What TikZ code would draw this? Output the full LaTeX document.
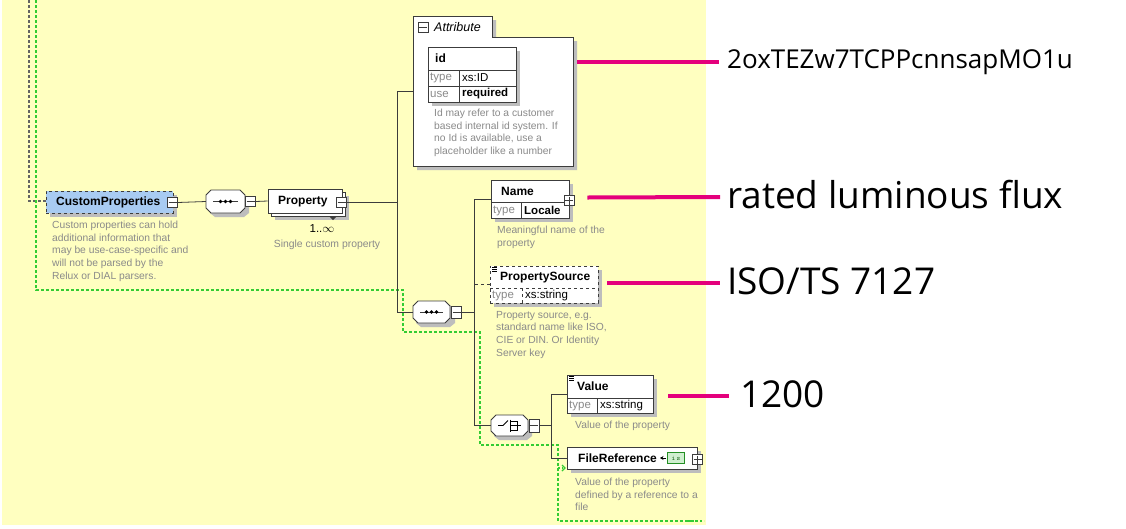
\documentclass[tikz,border=0pt]{standalone}
\usepackage{fontspec}
\setmainfont{Liberation Sans}
\newfontfamily\bigfont{Open Sans}
\usetikzlibrary{shadows,arrows.meta,calc}
\definecolor{bgyellow}{HTML}{FFFFC0}
\definecolor{boxline}{HTML}{3C3C3C}
\definecolor{descgray}{HTML}{8A8A8A}
\definecolor{greendot}{HTML}{33CC33}
\definecolor{pinkline}{HTML}{E4007C}
\definecolor{cpblue}{HTML}{A8CBF2}
\definecolor{shadowgray}{HTML}{BDBDBD}
\definecolor{isgreen}{HTML}{CFEFCF}
\begin{document}
\begin{tikzpicture}[x=1pt,y=-1pt,
  conn/.style={draw=boxline,line width=0.8pt},
  elbox/.style={draw=boxline,fill=white,line width=0.9pt,inner sep=0,rectangle,
     drop shadow={shadow xshift=4pt,shadow yshift=-4pt,fill=shadowgray,opacity=1}},
  smallbox/.style={draw=boxline,fill=white,line width=0.7pt,inner sep=0,minimum width=10,minimum height=10},
  title/.style={font=\fontsize{12}{14}\selectfont\bfseries,text=black,anchor=west,inner sep=0},
  lbl/.style={font=\fontsize{11.5}{13}\selectfont,text=descgray,anchor=west,inner sep=0},
  val/.style={font=\fontsize{11.5}{13}\selectfont,text=black,anchor=west,inner sep=0},
  desc/.style={font=\fontsize{10.3}{12.6}\selectfont,text=descgray,anchor=north west,align=left,inner sep=0},
  bigtxt/.style={font=\bigfont\fontsize{37}{42}\selectfont,text=black,anchor=west,inner sep=0},
  pink/.style={draw=pinkline,line width=4pt},
  gdot/.style={draw=greendot,line width=1.2pt,dash pattern=on 2.5pt off 2.5pt},
  ddot/.style={draw=boxline!80,line width=1.2pt,dash pattern=on 2.5pt off 2.5pt},
]
\useasboundingbox (0,0) rectangle (1126,528);
\fill[bgyellow] (2,0) rectangle (706,525);

% guide lines from top
\coordinate (dtop) at (29,0);
\coordinate (gtop) at (36,0);
\draw[ddot] (dtop) -- (29,201) -- (46,201);
\draw[gdot] (gtop) -- (36,290) -- (403,290) -- (403,332) -- (480,332) -- (480,445) -- (558,445) -- (558,521) -- (700,521);
\draw[draw=greendot,line width=2pt,dash pattern=on 2pt off 2pt] (688,521) -- (704,521);
\coordinate (gbr) at (558,468);

% ---------- CustomProperties
\node[elbox,fill=cpblue,dashed,minimum width=127,minimum height=22] (cp) at (109.5,202) {};
\node[title] at (56,202.5) {CustomProperties};
\node[smallbox] (cpminus) at (172.5,202.5) {};
\draw[boxline,line width=0.7pt] (168.5,202.5) -- (176.5,202.5);
\node[desc] at (52,221) {Custom properties can hold\\additional information that\\may be use-case-specific and\\will not be parsed by the\\Relux or DIAL parsers.};

% ---------- sequence 1
\coordinate (s1c) at (225.5,201.5);
\fill[shadowgray] (215,194) -- (244,194) -- (249,199) -- (249,213) -- (244,217) -- (215,217) -- (210,213) -- (210,199) -- cycle;
\draw[boxline,fill=white,line width=0.9pt] (211,190) -- (240,190) -- (245,195) -- (245,208) -- (240,213) -- (211,213) -- (206,208) -- (206,195) -- cycle;
\node[inner sep=0,minimum width=39,minimum height=23] (seq1) at (s1c) {};
\draw[boxline,line width=0.8pt] (213,201.5) -- (238,201.5);
\foreach \dx in {-5,0,5} \fill[black] ($(s1c)+(\dx,0)$) circle (1.9);
\node[smallbox] (s1minus) at (250.5,201.5) {};
\draw[boxline,line width=0.7pt] (246.5,201.5) -- (254.5,201.5);
\draw[conn] (cpminus.east) -- (seq1.west);

% ---------- Property
\fill[shadowgray] (275,196) rectangle (349,220);
\draw[boxline,fill=white,line width=0.9pt] (271,192) rectangle (345,216);
\node[draw=boxline,fill=white,line width=0.9pt,inner sep=0,minimum width=74,minimum height=24] (prop) at (305,201) {};
\node[title] at (278,202) {Property};
\fill[boxline] (329,216) -- (337,216) -- (333,220) -- cycle;
\node[smallbox] (propminus) at (341.5,202) {};
\draw[boxline,line width=0.7pt] (337.5,202) -- (345.5,202);
\node[font=\fontsize{11.5}{12}\selectfont,inner sep=0] at (322,229) {1..$\infty$};
\node[font=\fontsize{10.4}{12}\selectfont,text=descgray,inner sep=0] at (327,245) {Single custom property};
\draw[conn] (s1minus.east) -- (prop.west);

% ---------- Attribute
\fill[shadowgray] (417,20) -- (496,20) -- (496,41) -- (577,41) -- (577,170) -- (417,170) -- cycle;
\draw[boxline,fill=white,line width=0.9pt] (413,166) -- (413,16) -- (492,16) -- (492,37) -- (573,37) -- (573,166) -- cycle;
\node[inner sep=0,minimum width=160,minimum height=150] (attr) at (493,91) {};
\node[smallbox] (attrminus) at (423,27) {};
\draw[boxline,line width=0.7pt] (419,27) -- (427,27);
\node[font=\fontsize{12.5}{13}\selectfont\itshape,anchor=west,inner sep=0] at (434,27) {Attribute};
\node[elbox,minimum width=88,minimum height=55] (id) at (472,74.5) {};
\draw[boxline,line width=0.7pt] (428,70) -- (516,70) (428,86) -- (516,86) (459,70) -- (459,102);
\node[title] at (435,58.5) {id};
\node[lbl] at (430,78) {type};
\node[val] at (462,78) {xs:ID};
\node[lbl] at (430,94) {use};
\node[val,font=\fontsize{11.5}{13}\selectfont\bfseries] at (462,94) {required};
\node[desc] at (434,109) {Id may refer to a customer\\based internal id system. If\\no Id is available, use a\\placeholder like a number};

% bus 1
\coordinate (b1) at (397,202);
\draw[conn] (propminus.east) -- (b1);
\draw[conn] (attr.west) -| (b1);

% ---------- sequence 2
\coordinate (s2c) at (431.5,312);
\fill[shadowgray] (421,305) -- (450,305) -- (455,310) -- (455,323) -- (450,327) -- (421,327) -- (416,323) -- (416,310) -- cycle;
\draw[boxline,fill=white,line width=0.9pt] (418,301) -- (445,301) -- (450,306) -- (450,318) -- (445,323) -- (418,323) -- (413,318) -- (413,306) -- cycle;
\node[inner sep=0,minimum width=37,minimum height=22] (seq2) at (s2c) {};
\draw[boxline,line width=0.8pt] (420,312) -- (443,312);
\foreach \dx in {-5,0,5} \fill[black] ($(s2c)+(\dx,0)$) circle (1.9);
\node[smallbox,minimum height=12] (s2minus) at (456.5,312) {};
\draw[boxline,line width=0.7pt] (452.5,312) -- (460.5,312);
\draw[conn] (seq2.west) -| (b1);

% bus 2
\coordinate (b2) at (474,312);
\draw[conn] (s2minus.east) -- (b2);

% ---------- Name
\node[elbox,minimum width=78,minimum height=38] (name) at (530,199) {};
\draw[boxline,line width=0.7pt] (491,202) -- (569,202) (521,202) -- (521,218);
\node[title] at (501,191) {Name};
\node[lbl] at (493,210.5) {type};
\node[val,font=\fontsize{11.5}{13}\selectfont\bfseries] at (524,210.5) {Locale};
\node[smallbox] (nameplus) at (569,200.5) {};
\draw[boxline,line width=0.7pt] (565,200.5) -- (573,200.5) (569,196.5) -- (569,204.5);
\node[desc] at (497,226) {Meaningful name of the\\property};
\draw[conn] (name.west) -| (b2);

% ---------- PropertySource
\node[elbox,dashed,minimum width=108,minimum height=37] (psrc) at (544,284.5) {};
\draw[boxline,line width=0.7pt,dashed] (490,288) -- (598,288) (522,288) -- (522,303);
\draw[black,line width=0.5pt] (492,267.5) -- (497,267.5) (492,269.5) -- (497,269.5) (492,271.5) -- (497,271.5);
\node[title] at (500,277.5) {PropertySource};
\node[lbl] at (492,296) {type};
\node[val] at (525,296) {xs:string};
\node[desc] at (496,311) {Property source, e.g.\\standard name like ISO,\\CIE or DIN. Or Identity\\Server key};
\draw[conn,dashed] (psrc.west) -- (psrc.west -| b2);

% ---------- choice
\coordinate (chc) at (509.5,425.5);
\fill[shadowgray] (499,419) -- (527,419) -- (532,424) -- (532,436) -- (527,440) -- (499,440) -- (494,436) -- (494,424) -- cycle;
\draw[boxline,fill=white,line width=0.9pt] (496,415) -- (523,415) -- (528,420) -- (528,431) -- (523,436) -- (496,436) -- (491,431) -- (491,420) -- cycle;
\node[inner sep=0,minimum width=37,minimum height=21] (choice) at (chc) {};
\draw[black,line width=0.9pt] (498,425.5) -- (503,425.5) -- (508,420.5);
\draw[black,line width=0.9pt] (510,419.5) -- (510,431.5);
\draw[black,line width=0.8pt] (510,421) -- (517,421) -- (517,430) -- (510,430) (510,425.5) -- (521,425.5);
\node[smallbox,minimum height=13] (chminus) at (534,425.5) {};
\draw[boxline,line width=0.7pt] (530,425.5) -- (538,425.5);
\draw[conn] (choice.west) -| (b2);

% bus 3
\coordinate (b3) at (551,425.5);
\draw[conn] (chminus.east) -- (b3);

% ---------- Value
\node[elbox,minimum width=86,minimum height=38] (value) at (610,394) {};
\draw[boxline,line width=0.7pt] (567,398) -- (653,398) (597,398) -- (597,413);
\draw[black,line width=0.5pt] (569,376.5) -- (574,376.5) (569,378.5) -- (574,378.5) (569,380.5) -- (574,380.5);
\node[title] at (577,386.5) {Value};
\node[lbl] at (569,405.5) {type};
\node[val] at (600,405.5) {xs:string};
\node[desc] at (575,421) {Value of the property};
\draw[conn] (value.west) -| (b3);

% ---------- FileReference
\node[elbox,minimum width=130,minimum height=22] (fref) at (632,458) {};
\node[title] at (578,458.5) {FileReference};
\draw[black,line width=0.8pt,-{Stealth[length=3.5pt,width=4pt]}] (666,458) -- (660,458);
\node[draw=greendot!70!black,fill=isgreen,line width=0.6pt,inner sep=0,minimum width=17,minimum height=11,font=\fontsize{7}{8}\selectfont\ttfamily,text=greendot!50!black] (istype) at (676,458) {i\,s};
\node[smallbox] (frplus) at (697.5,459.5) {};
\draw[boxline,line width=0.7pt] (693.5,459.5) -- (701.5,459.5) (697.5,455.5) -- (697.5,463.5);
\node[desc] at (575,478) {Value of the property\\defined by a reference to a\\file};
\draw[conn] (fref.west) -| (b3);
\draw[draw=greendot,line width=1.1pt,dash pattern=on 2pt off 2pt] (gbr) -- (563,468);
\draw[draw=greendot,line width=1.1pt] (562,465) -- (565,468) -- (562,471);

% ---------- value labels
\coordinate (l1) at (719,62);
\draw[pink] (577,62) -- (l1);
\node[bigtxt,font=\bigfont\fontsize{26}{30}\selectfont] (t1) at (727,62) {2oxTEZw7TCPPcnnsapMO1u};
\coordinate (l2) at (720,197);
\draw[pink] (nameplus.east) ++(13,-3) -- (l2);
\node[bigtxt] (t2) at (727,195) {rated luminous flux};
\coordinate (l3) at (720,283);
\draw[pink] (607,283) -- (l3);
\node[bigtxt] (t3) at (727,281) {ISO/TS 7127};
\coordinate (l4) at (729,396);
\draw[pink] (668,396) -- (l4);
\node[bigtxt] (t4) at (740,394) {1200};
\end{tikzpicture}
\end{document}
